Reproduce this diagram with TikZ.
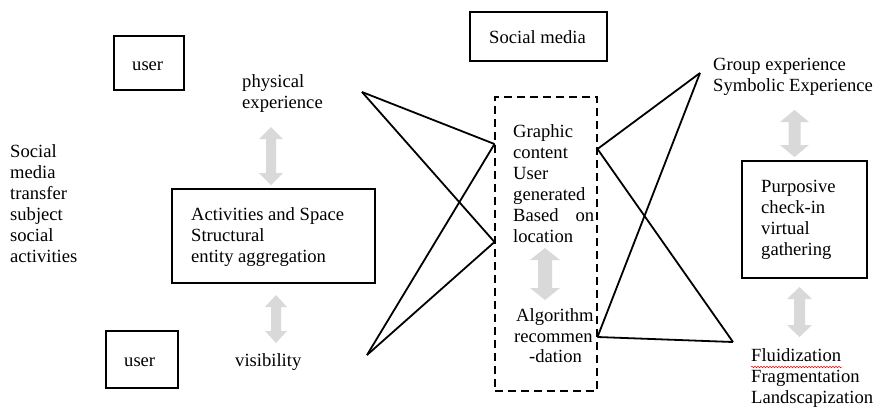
\documentclass[tikz,border=0pt]{standalone}
\usepackage{fontspec}
\setmainfont{Liberation Serif}
\usetikzlibrary{decorations.pathmorphing}
\definecolor{arrowgray}{HTML}{D9D9D9}
\newcommand{\GrayArrow}[5]{% cx, ytop, ybot, headhalf, shafthalf
  \fill[arrowgray] (#1,#2) -- ({#1+#4},{#2+12}) -- ({#1+#5},{#2+12}) -- ({#1+#5},{#3-12})
    -- ({#1+#4},{#3-12}) -- (#1,#3) -- ({#1-#4},{#3-12}) -- ({#1-#5},{#3-12})
    -- ({#1-#5},{#2+12}) -- ({#1-#4},{#2+12}) -- cycle;}
\begin{document}
\begin{tikzpicture}[x=1pt,y=-1pt,
  box/.style={draw, line width=1.9pt, inner sep=0pt},
  dbox/.style={draw, line width=1.9pt, dash pattern=on 8pt off 5pt, inner sep=0pt},
  txt/.style={anchor=base west, inner sep=0pt, align=left, font=\fontsize{18.6pt}{21pt}\selectfont},
  ln/.style={line width=1.8pt, line join=miter}]
\useasboundingbox (0,0) rectangle (873,408);

% boxes
\node[box, minimum width=70pt, minimum height=54pt] (userA) at (149,63) {};
\node[box, minimum width=72pt, minimum height=57pt] (userB) at (142,359.5) {};
\node[box, minimum width=203pt, minimum height=94pt] (act) at (273.5,236) {};
\node[box, minimum width=137pt, minimum height=49pt] (sm) at (538.5,36.5) {};
\node[dbox, minimum width=102pt, minimum height=294pt] (dash) at (546,244) {};
\node[box, minimum width=125pt, minimum height=117pt] (purp) at (804.5,219.5) {};

% texts (base anchor = baseline of last line)
\node[txt] (tuserA) at (132,70) {user};
\node[txt] (tuserB) at (124,366) {user};
\node[txt] (phys) at (242,108) {physical\\experience};
\node[txt] (left) at (10,262) {Social\\media\\transfer\\subject\\social\\activities};
\node[txt] (tact) at (191,262) {Activities and Space\\Structural\\entity aggregation};
\node[txt] (vis) at (235,366) {visibility};
\node[txt] (tsm) at (489,43) {Social media};
\node[txt] (graph) at (513,242) {Graphic\\content\\User\\generated\\\hbox to 81pt{Based\hfill on}\\location};
\node[txt] (alg1) at (516,321) {Algorithm};
\node[txt] (alg2) at (514,342) {recommen};
\node[txt] (alg3) at (529,362) {-dation};
\node[txt] (grp) at (713,91) {Group experience\\Symbolic Experience};
\node[txt] (tpurp) at (761,255) {Purposive\\check-in\\virtual\\gathering};
\node[txt] (fluid) at (751,403) {Fluidization\\Fragmentation\\Landscapization};
\draw[red, line width=0.5pt, decorate, decoration={snake, amplitude=0.8pt, segment length=3pt}]
  (751,367) -- (842,367);

% gray double arrows
\GrayArrow{271}{127}{185}{12}{5}
\GrayArrow{276}{295}{343}{11}{5}
\GrayArrow{545}{248}{300}{15}{7}
\GrayArrow{794.5}{110}{157}{14.5}{6}
\GrayArrow{799.5}{287}{337}{12.5}{5.5}

% line vertices
\coordinate (L1) at (362,92);
\coordinate (L2) at (367,355);
\coordinate (D1) at (494.5,144);
\coordinate (D2) at (494.5,242);
\coordinate (D3) at (597.5,149);
\coordinate (D4) at (597.5,337);
\coordinate (R1) at (700,73);
\coordinate (R2) at (733,342);

\draw[ln] (L1) -- (D1);
\draw[ln] (L1) -- (D2);
\draw[ln] (L2) -- (D1);
\draw[ln] (L2) -- (D2);
\draw[ln] (D3) -- (R1);
\draw[ln] (R1) -- (D4);
\draw[ln] (D3) -- (R2);
\draw[ln] (D4) -- (R2);
\end{tikzpicture}
\end{document}
